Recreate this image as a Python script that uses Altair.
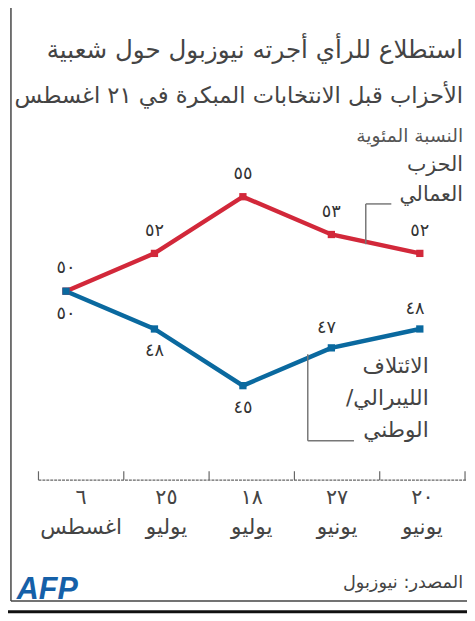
import altair as alt
import pandas as pd

# ---- data ----
dates = ["٦ اغسطس", "٢٥ يوليو", "١٨ يوليو", "٢٧ يونيو", "٢٠ يونيو"]   # left -> right
labor = [50, 52, 55, 53, 52]
coalition = [50, 48, 45, 47, 48]

subtitle1 = "استطلاع للرأي أجرته نيوزبول حول شعبية"
subtitle2 = "الأحزاب قبل الانتخابات المبكرة في ٢١ اغسطس"
unit_label = "النسبة المئوية"
labor_name = ["الحزب", "العمالي"]
coalition_name = ["الائتلاف", "/الليبرالي", "الوطني"]
source = "المصدر: نيوزبول"
logo = "AFP"

RED = "#d2283a"
BLUE = "#0a699f"
TXT = "#444"
FONT = "DejaVu Sans"
AR = str.maketrans("0123456789", "٠١٢٣٤٥٦٧٨٩")

rows = []
for i, d in enumerate(dates):
    rows.append(dict(date=d, party="labor", value=labor[i], label=str(labor[i]).translate(AR), idx=i))
    rows.append(dict(date=d, party="coalition", value=coalition[i], label=str(coalition[i]).translate(AR), idx=i))
df = pd.DataFrame(rows)
dates_df = pd.DataFrame({"date": dates, "idx": list(range(len(dates))),
                         "day": [d.split(" ")[0] for d in dates],
                         "month": [d.split(" ")[1] for d in dates]})
one = pd.DataFrame({"a": [0]})

W, H = 434, 346
RX = 432  # right edge of visible area, in plot coordinates

yenc = alt.Y("value:Q", scale=alt.Scale(domain=[40, 58]), axis=None)
band_scale = alt.Scale(type="band", paddingInner=0, paddingOuter=0)
xb = alt.X("date:N", sort=dates, scale=band_scale, axis=None)

# ---- band (axis) group ----
day_labels = alt.Chart(dates_df).mark_text(font=FONT, fontSize=21, color=TXT, baseline="middle").encode(
    x=xb, y=alt.value(H + 18), text="day:N")
month_labels = alt.Chart(dates_df).mark_text(font=FONT, fontSize=22, color=TXT, baseline="middle").encode(
    x=xb, y=alt.value(H + 48), text="month:N")
ticks = alt.Chart(dates_df).mark_rule(color="#666", strokeWidth=1.2).encode(
    x=alt.X("date:N", sort=dates, scale=band_scale, bandPosition=0, axis=None),
    y=alt.value(H - 9), y2=alt.value(H),
)
last_tick = alt.Chart(dates_df).transform_filter("datum.idx == 4").mark_rule(color="#666", strokeWidth=1.2).encode(
    x=alt.X("date:N", sort=dates, scale=band_scale, bandPosition=1, axis=None),
    y=alt.value(H - 9), y2=alt.value(H),
)
axis_line = alt.Chart(one).mark_rule(color="#666", strokeWidth=1.5, strokeDash=[3, 1]).encode(
    x=alt.value(0), x2=alt.value(W + 10), y=alt.value(H))

band_group = alt.layer(day_labels, month_labels, ticks, last_tick, axis_line)

# ---- data group ----
xp = alt.X("date:N", sort=dates, scale=alt.Scale(type="point", range=[28, 388], padding=0), axis=None)
col = alt.Color("party:N", scale=alt.Scale(domain=["labor", "coalition"], range=[RED, BLUE]), legend=None)
base = alt.Chart(df).encode(x=xp, y=yenc, color=col)

lines = base.mark_line(strokeWidth=4.5)
points = base.mark_point(shape="square", filled=True, size=55, opacity=1)
lab_red = base.transform_filter("datum.party == 'labor'").mark_text(
    dy=-23, font=FONT, fontSize=18).encode(text="label:N", color=alt.value("#333"))
lab_blue_dn = base.transform_filter("datum.party == 'coalition' && datum.idx <= 2").mark_text(
    dy=23, font=FONT, fontSize=18).encode(text="label:N", color=alt.value("#333"))
lab_blue_up = base.transform_filter("datum.party == 'coalition' && datum.idx >= 3").mark_text(
    dy=-20, dx=-5, font=FONT, fontSize=18).encode(text="label:N", color=alt.value("#333"))

data_group = alt.layer(lines, points, lab_red, lab_blue_dn, lab_blue_up)

# ---- annotations ----
def txt(s, x, y, size=15, align="left", color=TXT, weight="normal", style="normal", font=FONT):
    return alt.Chart(one).mark_text(align=align, baseline="middle", font=font, fontSize=size,
                                    color=color, fontWeight=weight, fontStyle=style).encode(
        x=alt.value(x), y=alt.value(y), text=alt.value(s))

def rule(x, y, x2=None, y2=None, color="#777", w=1.5, dash=None):
    kw = dict(color=color, strokeWidth=w)
    if dash:
        kw["strokeDash"] = dash
    enc = dict(x=alt.value(x), y=alt.value(y))
    if x2 is not None:
        enc["x2"] = alt.value(x2)
    if y2 is not None:
        enc["y2"] = alt.value(y2)
    return alt.Chart(one).mark_rule(**kw).encode(**enc)

ann = alt.layer(
    txt(subtitle1, RX, -91, size=25, align="right"),
    txt(subtitle2, RX, -45, size=23, align="right"),
    txt(unit_label, RX, -4, size=19, align="right", color="#555"),
    txt(labor_name[0], RX, 26, size=21, align="right"),
    txt(labor_name[1], RX, 56, size=21, align="right"),
    txt(coalition_name[0], 397, 230, size=22, align="right"),
    txt(coalition_name[1], 397, 263, size=22, align="right"),
    txt(coalition_name[2], 397, 295, size=22, align="right"),
    txt(source, RX, 451, size=18, align="right"),
    txt(logo, -22, 458, size=31, color="#1560a8", weight="bold", style="italic", font="Liberation Sans"),
    # leaders
    rule(333, 65, y2=106, color="#777"),
    rule(333, 65, x2=359, color="#777"),
    rule(274, 218, y2=306, color="#777"),
    rule(274, 306, x2=321, color="#777"),
    # frame
    rule(-28, -140, y2=469, color="#444", w=1.5),
    rule(-28, 469, x2=W + 20, color="#444", w=1.5),
    rule(-40, 480, x2=W + 20, color="#111", w=3),
)

chart = alt.layer(band_group, data_group, ann).resolve_scale(x="independent").properties(
    width=W, height=H,
    padding={"left": 31, "top": 129, "right": 2, "bottom": 138},
    autosize=alt.AutoSizeParams(type="none"),
    background="white",
).configure_view(stroke=None)

chart.save("out.html", embed_options={"renderer": "svg", "actions": False})
